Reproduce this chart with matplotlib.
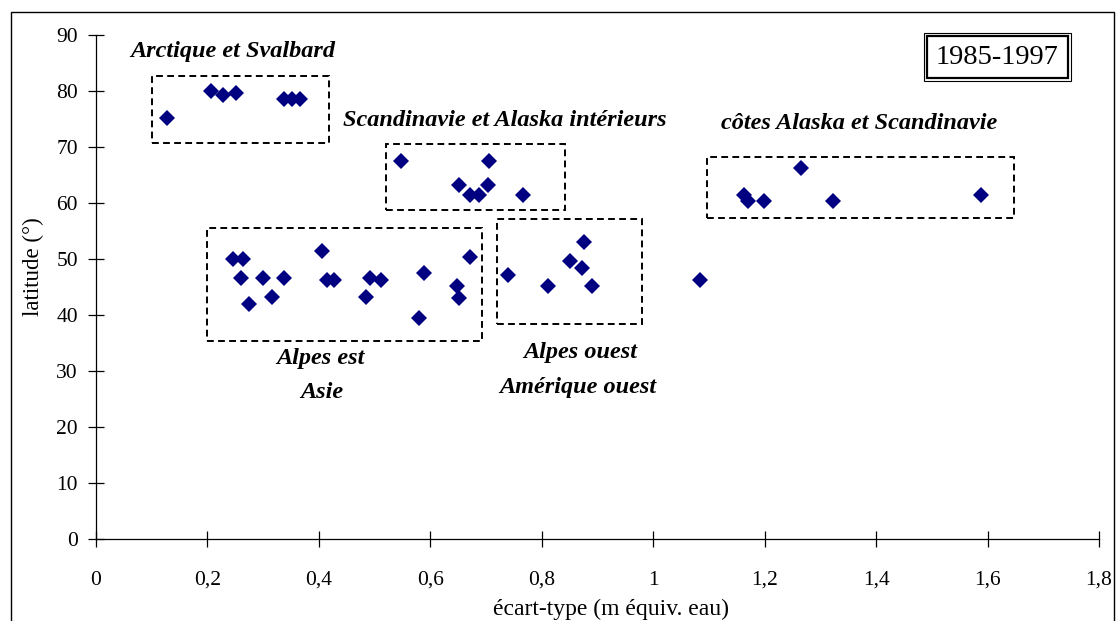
import matplotlib
matplotlib.use("Agg")
import matplotlib.pyplot as plt
from matplotlib.patches import Rectangle

# ecart-type (m equiv. eau) and latitude
arctique_x = [0.128, 0.207, 0.228, 0.251, 0.338, 0.351, 0.366]
arctique_y = [75.1, 80.0, 79.2, 79.6, 78.6, 78.6, 78.6]

scandi_x = [0.548, 0.706, 0.651, 0.703, 0.671, 0.688, 0.766]
scandi_y = [67.5, 67.5, 63.3, 63.3, 61.5, 61.5, 61.5]

alpes_est_x = [0.245, 0.264, 0.261, 0.300, 0.338, 0.275, 0.316, 0.405, 0.415,
               0.427, 0.492, 0.511, 0.485, 0.588, 0.579, 0.648, 0.651, 0.671]
alpes_est_y = [50.0, 50.0, 46.6, 46.6, 46.6, 42.0, 43.2, 51.4, 46.3,
               46.3, 46.6, 46.3, 43.2, 47.5, 39.4, 45.2, 43.1, 50.3]

alpes_ouest_x = [0.740, 0.812, 0.850, 0.875, 0.873, 0.890]
alpes_ouest_y = [47.2, 45.1, 49.7, 53.1, 48.4, 45.1]

autre_x = [1.084]
autre_y = [46.3]

cotes_x = [1.163, 1.170, 1.199, 1.265, 1.323, 1.588]
cotes_y = [61.5, 60.3, 60.3, 66.3, 60.3, 61.4]

xticks = [0, 0.2, 0.4, 0.6, 0.8, 1, 1.2, 1.4, 1.6, 1.8]
xtick_labels = ["0", "0,2", "0,4", "0,6", "0,8", "1", "1,2", "1,4", "1,6", "1,8"]
yticks = [0, 10, 20, 30, 40, 50, 60, 70, 80, 90]

# dashed group boxes: (x0, x1, y0, y1)
boxes = [
    (0.101, 0.418, 70.7, 82.7),
    (0.520, 0.841, 58.7, 70.6),
    (0.199, 0.693, 35.4, 55.6),
    (0.720, 0.980, 38.4, 57.1),
    (1.097, 1.648, 57.3, 68.3),
]

labels = [
    ("Arctique et Svalbard", 0.246, 87.0),
    ("Scandinavie et Alaska intérieurs", 0.733, 74.8),
    ("côtes Alaska et Scandinavie", 1.37, 74.2),
    ("Alpes est", 0.402, 32.2),
    ("Asie", 0.406, 26.1),
    ("Alpes ouest", 0.869, 33.3),
    ("Amérique ouest", 0.865, 27.1),
]

plt.rcParams["font.family"] = ["Liberation Serif", "DejaVu Serif"]

W, H = 1117, 621
fig = plt.figure(figsize=(W / 100, H / 100), dpi=100)
ax = fig.add_axes([96 / W, 1 - 539 / H, (1099 - 96) / W, (539 - 35) / H])

all_x = arctique_x + scandi_x + alpes_est_x + alpes_ouest_x + autre_x + cotes_x
all_y = arctique_y + scandi_y + alpes_est_y + alpes_ouest_y + autre_y + cotes_y
ax.plot(all_x, all_y, linestyle="none", marker="D", markersize=7.8,
        color="#000080", markeredgewidth=0, zorder=3)

for x0, x1, y0, y1 in boxes:
    ax.add_patch(Rectangle((x0, y0), x1 - x0, y1 - y0, fill=False,
                           edgecolor="black", linewidth=1.4,
                           linestyle=(0, (3.5, 2.2)), clip_on=False))

for txt, x, y in labels:
    ax.text(x, y, txt, ha="center", va="center", fontsize=17.5,
            fontweight="bold", fontstyle="italic")

ax.set_xlim(0, 1.8)
ax.set_ylim(0, 90)
ax.set_xticks(xticks)
ax.set_xticklabels(xtick_labels)
ax.set_yticks(yticks)

for side in ["top", "right"]:
    ax.spines[side].set_visible(False)
for side in ["left", "bottom"]:
    ax.spines[side].set_linewidth(0.9)

ax.tick_params(axis="x", direction="inout", length=12, width=0.9, pad=17, labelsize=15.5)
ax.tick_params(axis="y", direction="inout", length=12, width=0.9, pad=7, labelsize=15.5)

# axis titles
fig.text(611 / W, 1 - 609 / H, "écart-type (m équiv. eau)", ha="center", va="center", fontsize=17)
fig.text(33 / W, 1 - 267 / H, "latitude (°)", ha="center", va="center", fontsize=16.5, rotation=90)

# period box with double border
fig.add_artist(Rectangle((924 / W, 1 - 81 / H), 147 / W, 48 / H,
                         transform=fig.transFigure, fill=False,
                         edgecolor="black", linewidth=0.8))
fig.add_artist(Rectangle((927 / W, 1 - 78 / H), 141 / W, 42 / H,
                         transform=fig.transFigure, fill=False,
                         edgecolor="black", linewidth=1.6))
fig.text(997 / W, 1 - 57 / H, "1985-1997", ha="center", va="center", fontsize=20.5)

# outer chart frame
fig.add_artist(Rectangle((11 / W, -0.05), (1114 - 11) / W, 1.05 - 12 / H,
                         transform=fig.transFigure, fill=False,
                         edgecolor="black", linewidth=1.0))

fig.savefig("out.png", dpi=100)
